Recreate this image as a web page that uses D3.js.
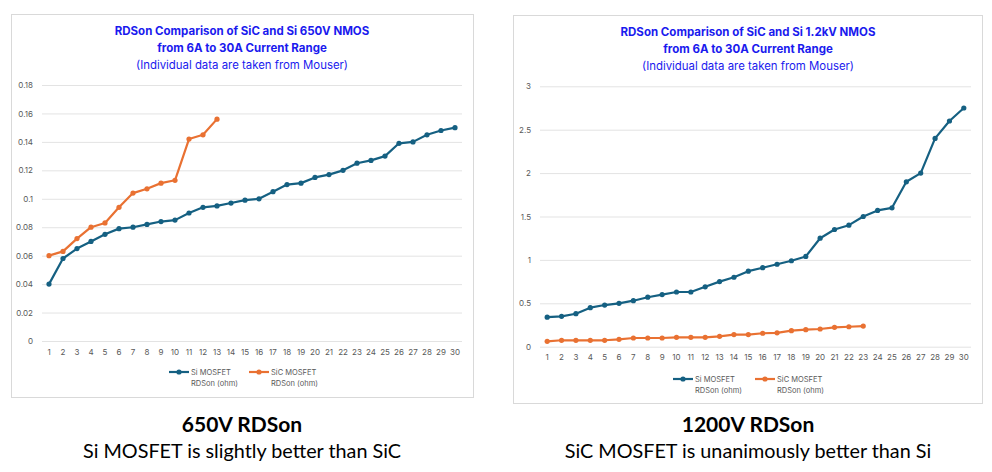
<!DOCTYPE html>
<html>
<head>
<meta charset="utf-8">
<script src="https://cdn.jsdelivr.net/npm/d3@7"></script>
<style>
  body { margin: 0; background: #fff; }
  svg { display: block; }
</style>
</head>
<body>
<div id="my_dataviz"></div>
<script>
// x categories (1..30 parts, sorted by RDSon)
const partIndex = ['1','2','3','4','5','6','7','8','9','10','11','12','13','14','15',
  '16','17','18','19','20','21','22','23','24','25','26','27','28','29','30'];

// 650V chart
const si650 = [0.040, 0.058, 0.065, 0.070, 0.075, 0.079, 0.080, 0.082, 0.084, 0.085,
  0.090, 0.094, 0.095, 0.097, 0.099, 0.100, 0.105, 0.110, 0.111, 0.115,
  0.117, 0.120, 0.125, 0.127, 0.130, 0.139, 0.140, 0.145, 0.148, 0.150];
const sic650 = [0.060, 0.063, 0.072, 0.080, 0.083, 0.094, 0.104, 0.107, 0.111, 0.113,
  0.142, 0.145, 0.156];
const ticks650 = [0, 0.02, 0.04, 0.06, 0.08, 0.1, 0.12, 0.14, 0.16, 0.18];

// 1.2kV chart
const si1200 = [0.34, 0.35, 0.38, 0.45, 0.48, 0.50, 0.53, 0.57, 0.60, 0.63,
  0.63, 0.69, 0.75, 0.80, 0.87, 0.91, 0.95, 0.99, 1.04, 1.25,
  1.35, 1.40, 1.50, 1.57, 1.60, 1.90, 2.00, 2.40, 2.60, 2.75];
const sic1200 = [0.062, 0.074, 0.074, 0.074, 0.074, 0.085, 0.100, 0.100, 0.100, 0.108,
  0.108, 0.108, 0.120, 0.140, 0.140, 0.155, 0.160, 0.185, 0.196, 0.204,
  0.223, 0.230, 0.238];
const ticks1200 = [0, 0.5, 1, 1.5, 2, 2.5, 3];

const seriesNames = ['Si MOSFET', 'SiC MOSFET'];
const seriesColors = ['#156082', '#E97132'];

const svg = d3.select("#my_dataviz")
  .append("svg")
  .attr("width", 992)
  .attr("height", 472);

svg.append("rect").attr("width", 992).attr("height", 472).attr("fill", "#fff");

function drawChart(opt) {
  var card = opt.card;
  var g = svg.append("g");

  g.append("rect")
    .attr("x", card.x + 0.5).attr("y", card.y + 0.5)
    .attr("width", card.w).attr("height", card.h)
    .attr("fill", "#fff")
    .attr("stroke", "#d9d9d9");

  // title
  var cx = opt.titleX;
  g.append("text").attr("x", cx).attr("y", opt.titleY)
    .attr("text-anchor", "middle")
    .style("font-family", "Inter, 'Open Sans', sans-serif")
    .style("font-size", "11.5px").style("font-weight", "bold")
    .style("fill", "#1a1aee")
    .text(opt.title1);
  g.append("text").attr("x", cx).attr("y", opt.titleY + 17)
    .attr("text-anchor", "middle")
    .style("font-family", "Inter, 'Open Sans', sans-serif")
    .style("font-size", "11.5px").style("font-weight", "bold")
    .style("fill", "#1a1aee")
    .text("from 6A to 30A Current Range");
  g.append("text").attr("x", cx).attr("y", opt.titleY + 34)
    .attr("text-anchor", "middle")
    .style("font-family", "Inter, 'Open Sans', sans-serif")
    .style("font-size", "11.4px")
    .style("fill", "#1a1aee")
    .text("(Individual data are taken from Mouser)");

  var x = d3.scaleBand()
    .domain(partIndex)
    .range([opt.left, opt.right]);

  var y = d3.scaleLinear()
    .domain([0, opt.ticks[opt.ticks.length - 1]])
    .range([opt.bottom, opt.top]);

  // grid + y labels
  var yAxis = g.append("g")
    .attr("transform", "translate(" + opt.left + ",0)")
    .call(d3.axisLeft(y).tickValues(opt.ticks).tickSize(-(opt.right - opt.left)).tickPadding(9)
      .tickFormat(function(d) { return String(d); }));
  yAxis.select(".domain").remove();
  yAxis.selectAll("line").attr("stroke", "#e3e3e3");
  yAxis.selectAll("text")
    .style("font-family", "Inter, 'Open Sans', sans-serif")
    .style("font-size", "8px").style("fill", "#595959");

  // x labels
  var xAxis = g.append("g")
    .attr("transform", "translate(0," + opt.bottom + ")")
    .call(d3.axisBottom(x).tickSize(0).tickPadding(8));
  xAxis.select(".domain").remove();
  xAxis.selectAll("text")
    .style("font-family", "Inter, 'Open Sans', sans-serif")
    .style("font-size", "8px").style("fill", "#595959");

  var line = d3.line()
    .x(function(d, i) { return x(partIndex[i]) + x.bandwidth() / 2; })
    .y(function(d) { return y(d); });

  [opt.si, opt.sic].forEach(function(vals, k) {
    g.append("path")
      .datum(vals)
      .attr("fill", "none")
      .attr("stroke", seriesColors[k])
      .attr("stroke-width", 2.2)
      .attr("stroke-linejoin", "round")
      .attr("d", line);
    g.selectAll(null)
      .data(vals)
      .enter()
      .append("circle")
      .attr("cx", function(d, i) { return x(partIndex[i]) + x.bandwidth() / 2; })
      .attr("cy", function(d) { return y(d); })
      .attr("r", 2.6)
      .attr("fill", seriesColors[k]);
  });

  // legend
  opt.legendX.forEach(function(lx, k) {
    var lg = g.append("g").attr("transform", "translate(" + lx + "," + opt.legendY + ")");
    lg.append("line").attr("x1", 0).attr("x2", 20).attr("y1", 0).attr("y2", 0)
      .attr("stroke", seriesColors[k]).attr("stroke-width", 2.2);
    lg.append("circle").attr("cx", 10).attr("cy", 0).attr("r", 2.6).attr("fill", seriesColors[k]);
    lg.append("text").attr("x", 22).attr("y", 3)
      .style("font-family", "Inter, 'Open Sans', sans-serif")
      .style("font-size", "7.5px").style("fill", "#595959")
      .text(seriesNames[k]);
    lg.append("text").attr("x", 22).attr("y", 14)
      .style("font-family", "Inter, 'Open Sans', sans-serif")
      .style("font-size", "7.5px").style("fill", "#595959")
      .text("RDSon (ohm)");
  });

  // caption under the card
  g.append("text").attr("x", opt.titleX).attr("y", 432)
    .attr("text-anchor", "middle")
    .style("font-family", "Lato, 'Open Sans', sans-serif")
    .style("font-size", "21px").style("font-weight", "bold").style("fill", "#000")
    .text(opt.caption1);
  g.append("text").attr("x", opt.titleX).attr("y", 458)
    .attr("text-anchor", "middle")
    .style("font-family", "Lato, 'Open Sans', sans-serif")
    .style("font-size", "19.8px").style("fill", "#000")
    .text(opt.caption2);
}

drawChart({
  card: {x: 11, y: 14, w: 462, h: 383},
  titleX: 242, titleY: 35,
  title1: "RDSon Comparison of SiC and Si 650V NMOS",
  left: 42, right: 462, top: 85, bottom: 341,
  ticks: ticks650, si: si650, sic: sic650,
  legendX: [169, 249], legendY: 372,
  caption1: "650V RDSon",
  caption2: "Si MOSFET is slightly better than SiC"
});

drawChart({
  card: {x: 513, y: 15, w: 469, h: 388},
  titleX: 748, titleY: 36,
  title1: "RDSon Comparison of SiC and Si 1.2kV NMOS",
  left: 540, right: 971, top: 86.3, bottom: 346.7,
  ticks: ticks1200, si: si1200, sic: sic1200,
  legendX: [673, 755], legendY: 379,
  caption1: "1200V RDSon",
  caption2: "SiC MOSFET is unanimously better than Si"
});
</script>
</body>
</html>
